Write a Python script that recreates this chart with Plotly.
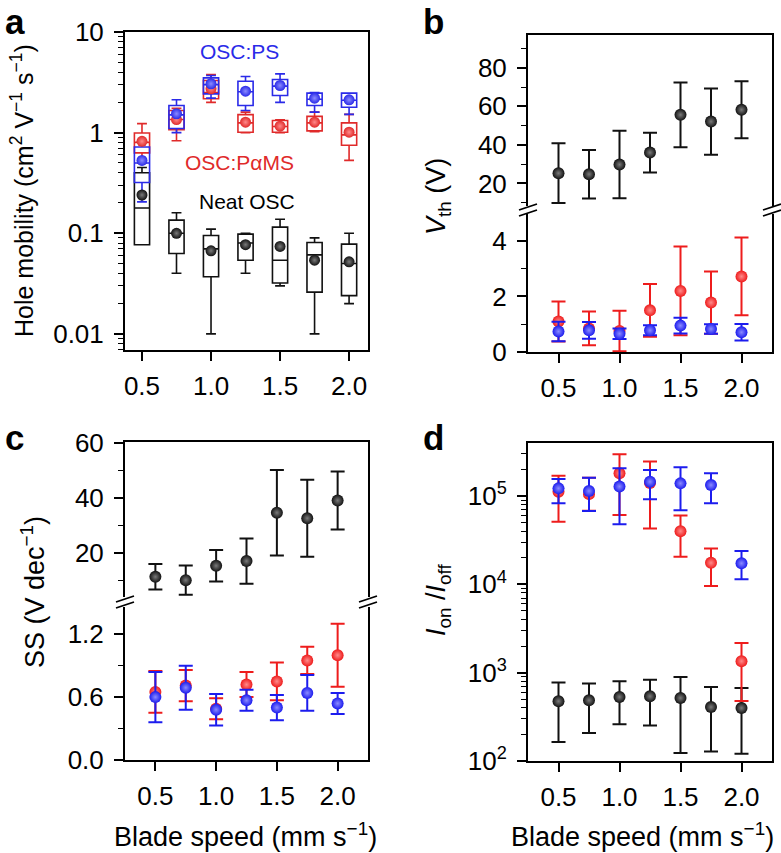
import plotly.graph_objects as go

# ---------------- data ----------------
speed = [0.5, 0.75, 1.0, 1.25, 1.5, 1.75, 2.0]

# panel a: hole mobility box statistics (cm2 V-1 s-1)
mob_neat_q1 = [0.077, 0.063, 0.037, 0.054, 0.032, 0.026, 0.024]
mob_neat_med = [0.178, 0.10, 0.07, 0.08, 0.054, 0.061, 0.05]
mob_neat_q3 = [0.40, 0.135, 0.095, 0.098, 0.115, 0.081, 0.078]
mob_neat_lo = [0.10, 0.04, 0.01, 0.04, 0.03, 0.01, 0.02]
mob_neat_hi = [0.45, 0.16, 0.11, 0.10, 0.138, 0.09, 0.10]
mob_neat_mean = [0.24, 0.10, 0.067, 0.077, 0.074, 0.054, 0.052]

mob_pams_q1 = [0.63, 1.07, 2.17, 1.01, 1.01, 1.04, 0.75]
mob_pams_med = [0.80, 1.35, 2.5, 1.25, 1.15, 1.25, 0.95]
mob_pams_q3 = [0.99, 1.66, 3.3, 1.51, 1.32, 1.45, 1.25]
mob_pams_lo = [0.50, 0.83, 2.0, 1.0, 1.0, 1.02, 0.53]
mob_pams_hi = [1.23, 1.75, 3.78, 1.6, 1.34, 1.6, 1.52]
mob_pams_mean = [0.82, 1.35, 2.73, 1.27, 1.16, 1.27, 1.01]

mob_ps_q1 = [0.32, 1.10, 2.43, 1.86, 2.34, 1.86, 1.79]
mob_ps_med = [0.50, 1.5, 3.0, 2.55, 2.9, 2.15, 2.1]
mob_ps_q3 = [0.72, 1.86, 3.5, 3.24, 3.37, 2.47, 2.47]
mob_ps_lo = [0.205, 1.0, 2.2, 1.66, 2.0, 1.6, 1.52]
mob_ps_hi = [0.80, 2.12, 3.7, 3.61, 3.84, 2.5, 2.45]
mob_ps_mean = [0.53, 1.54, 3.06, 2.58, 2.94, 2.2, 2.12]

# panel b: threshold voltage (V)
vth_neat = [25.3, 24.8, 29.8, 36.0, 55.6, 52.1, 58.2]
vth_neat_err = [15.5, 12.6, 17.5, 10.3, 16.8, 17.2, 14.8]
vth_pams = [1.10, 0.85, 0.76, 1.50, 2.20, 1.78, 2.72]
vth_pams_err = [0.72, 0.61, 0.73, 0.95, 1.6, 1.12, 1.4]
vth_ps = [0.74, 0.78, 0.66, 0.78, 0.95, 0.83, 0.71]
vth_ps_err = [0.35, 0.30, 0.19, 0.18, 0.28, 0.17, 0.30]

# panel c: subthreshold swing (V dec-1)
ss_neat = [11.5, 10.3, 15.5, 17.2, 34.7, 32.7, 39.1]
ss_neat_err = [4.6, 5.3, 5.7, 8.2, 15.5, 13.9, 10.5]
ss_pams = [0.65, 0.71, 0.49, 0.72, 0.75, 0.95, 1.0]
ss_pams_err = [0.20, 0.15, 0.10, 0.12, 0.18, 0.13, 0.30]
ss_ps = [0.60, 0.69, 0.48, 0.57, 0.50, 0.64, 0.54]
ss_ps_err = [0.24, 0.21, 0.15, 0.10, 0.12, 0.17, 0.10]

# panel d: on/off ratio (value, upper bound, lower bound)
onoff_neat = [475, 487, 531, 540, 517, 408, 398]
onoff_neat_hi = [773, 752, 798, 834, 893, 689, 671]
onoff_neat_lo = [164, 207, 260, 253, 123, 128, 121]
onoff_pams = [1.12e5, 1.05e5, 1.81e5, 1.4e5, 4.0e4, 1.75e4, 1.35e3]
onoff_pams_hi = [1.7e5, 1.61e5, 2.97e5, 2.45e5, 6.0e4, 2.55e4, 2.17e3]
onoff_pams_lo = [5.1e4, 6.8e4, 6.1e4, 4.3e4, 2.05e4, 9.6e3, 478]
onoff_ps = [1.22e5, 1.14e5, 1.28e5, 1.45e5, 1.39e5, 1.33e5, 1.73e4]
onoff_ps_hi = [1.56e5, 1.61e5, 2.06e5, 1.97e5, 2.11e5, 1.81e5, 2.38e4]
onoff_ps_lo = [8.3e4, 6.76e4, 4.8e4, 9.2e4, 6.9e4, 8.3e4, 1.14e4]

x_ticks = [0.5, 1.0, 1.5, 2.0]

# ---------------- style ----------------
W, H = 781, 853
FONT = "Liberation Sans, Arial, sans-serif"
BLACK = "#111111"
RED = "#ee1c1c"
BLUE = "#1c1cee"
RED_A = "#e02a2a"
BLUE_A = "#2a2ae8"
GRAD = {BLACK: "#7a7a7a", RED: "#ff8a8a", BLUE: "#8a8aff", RED_A: "#ff8a8a", BLUE_A: "#8a8aff"}


def px(x):
    return x / W


def py(y):
    return 1 - y / H


fig = go.Figure()


def box(xa, ya, q1, med, q3, lo, hi, color):
    fig.add_trace(go.Box(
        x=speed, q1=q1, median=med, q3=q3, lowerfence=lo, upperfence=hi,
        xaxis=xa, yaxis=ya, width=0.11, whiskerwidth=0.65,
        line=dict(color=color, width=1.6), fillcolor="rgba(0,0,0,0)",
        boxpoints=False, showlegend=False, hoverinfo="skip"))


def pts(xa, ya, y, color, plus=None, minus=None, size=12):
    err = None
    if plus is not None:
        err = dict(type="data", array=plus, arrayminus=minus if minus is not None else plus,
                   symmetric=minus is None, color=color, thickness=2, width=7)
    fig.add_trace(go.Scatter(
        x=speed, y=y, mode="markers", xaxis=xa, yaxis=ya, error_y=err,
        marker=dict(color=color, size=size, line=dict(width=0),
                    gradient=dict(type="radial", color=GRAD[color])),
        showlegend=False, hoverinfo="skip"))


# panel a
box("x", "y", mob_neat_q1, mob_neat_med, mob_neat_q3, mob_neat_lo, mob_neat_hi, BLACK)
box("x", "y", mob_pams_q1, mob_pams_med, mob_pams_q3, mob_pams_lo, mob_pams_hi, RED_A)
box("x", "y", mob_ps_q1, mob_ps_med, mob_ps_q3, mob_ps_lo, mob_ps_hi, BLUE_A)
pts("x", "y", mob_neat_mean, BLACK, size=11)
pts("x", "y", mob_pams_mean, RED_A, size=11)
pts("x", "y", mob_ps_mean, BLUE_A, size=11)

# panel b (upper: y3, lower: y2)
pts("x3", "y3", vth_neat, BLACK, vth_neat_err)
pts("x2", "y2", vth_pams, RED, vth_pams_err)
pts("x2", "y2", vth_ps, BLUE, vth_ps_err)

# panel c (upper: y5, lower: y4)
pts("x5", "y5", ss_neat, BLACK, ss_neat_err)
pts("x4", "y4", ss_pams, RED, ss_pams_err)
pts("x4", "y4", ss_ps, BLUE, ss_ps_err)


# panel d
def asym(v, hi, lo):
    return [h - a for a, h in zip(v, hi)], [a - l for a, l in zip(v, lo)]


p, m = asym(onoff_neat, onoff_neat_hi, onoff_neat_lo)
pts("x6", "y6", onoff_neat, BLACK, p, m)
p, m = asym(onoff_pams, onoff_pams_hi, onoff_pams_lo)
pts("x6", "y6", onoff_pams, RED, p, m)
p, m = asym(onoff_ps, onoff_ps_hi, onoff_ps_lo)
pts("x6", "y6", onoff_ps, BLUE, p, m)

tickfont = dict(family=FONT, size=26, color="black")
common = dict(showline=True, linecolor="black", linewidth=2, showgrid=False, zeroline=False,
              ticks="outside", ticklen=9, tickwidth=1.6, tickcolor="black", tickfont=tickfont)


def xaxis_main(domain, rng, anchor, mirror=False):
    return dict(common, domain=domain, range=rng, anchor=anchor, tickvals=x_ticks,
                tickformat=".1f", mirror=mirror, ticklabelstandoff=3)


def xaxis_top(domain, rng, anchor):
    return dict(domain=domain, range=rng, anchor=anchor, side="top", showline=True,
                linecolor="black", linewidth=2, showgrid=False, zeroline=False,
                showticklabels=False, ticks="")


minor_lin = dict(ticks="outside", ticklen=5, tickwidth=1.4, tickcolor="black", showgrid=False)

dom_a_x = [px(125), px(368)]
dom_r_x = [px(528), px(772)]

layout = dict(
    width=W, height=H, margin=dict(l=0, r=0, t=0, b=0, autoexpand=False),
    paper_bgcolor="white", plot_bgcolor="white", boxmode="overlay",
    font=dict(family=FONT, color="black"),
    # panel a
    xaxis=xaxis_main(dom_a_x, [0.377, 2.137], "y", mirror=True),
    yaxis=dict(common, domain=[py(350), py(32)], type="log", range=[-2.16, 1.0], anchor="x",
               mirror=True, tickvals=[0.01, 0.1, 1, 10], ticktext=["0.01", "0.1", "1", "10"],
               ticklabelstandoff=5,
               minor=dict(ticks="outside", ticklen=5, tickwidth=1.2, tickcolor="black",
                          dtick="D1", showgrid=False)),
    # panel b lower
    xaxis2=xaxis_main(dom_r_x, [0.25, 2.25], "y2"),
    yaxis2=dict(common, domain=[py(352), py(214)], range=[0, 4.97], anchor="x2", mirror=True,
                tickvals=[0, 2, 4], ticklabelstandoff=5, minor=dict(minor_lin, dtick=1)),
    # panel b upper
    xaxis3=xaxis_top(dom_r_x, [0.25, 2.25], "y3"),
    yaxis3=dict(common, domain=[py(206), py(35)], range=[8.3, 97], anchor="x3", mirror=True,
                tickvals=[20, 40, 60, 80], ticklabelstandoff=5,
                minor=dict(minor_lin, tick0=0, dtick=10)),
    # panel c lower
    xaxis4=xaxis_main(dom_a_x, [0.25, 2.25], "y4"),
    yaxis4=dict(common, domain=[py(760), py(607)], range=[0, 1.46], anchor="x4", mirror=True,
                tickvals=[0, 0.6, 1.2], tickformat=".1f", ticklabelstandoff=5,
                minor=dict(minor_lin, tick0=0, dtick=0.3)),
    # panel c upper
    xaxis5=xaxis_top(dom_a_x, [0.25, 2.25], "y5"),
    yaxis5=dict(common, domain=[py(597), py(442)], range=[4.2, 60.3], anchor="x5", mirror=True,
                tickvals=[20, 40, 60], ticklabelstandoff=5,
                minor=dict(minor_lin, tick0=0, dtick=10)),
    # panel d
    xaxis6=xaxis_main(dom_r_x, [0.25, 2.25], "y6", mirror=True),
    yaxis6=dict(common, domain=[py(761), py(443)], type="log", range=[2, 5.6], anchor="x6",
                mirror=True, tickvals=[1e2, 1e3, 1e4, 1e5],
                ticktext=["10<sup>2</sup>", "10<sup>3</sup>", "10<sup>4</sup>", "10<sup>5</sup>"],
                ticklabelstandoff=5,
                minor=dict(ticks="outside", ticklen=5, tickwidth=1.2, tickcolor="black",
                           dtick="D1", showgrid=False)),
)
fig.update_layout(**layout)

ann = []


def text(x, y, s, size=27, color="black", angle=0, bold=False, xanchor="center", yanchor="middle"):
    ann.append(dict(x=px(x), y=py(y), xref="paper", yref="paper", text=("<b>%s</b>" % s) if bold else s,
                    showarrow=False, textangle=angle, xanchor=xanchor, yanchor=yanchor,
                    font=dict(family=FONT, size=size, color=color)))


# panel letters
text(3, 0, "a", size=35, bold=True, xanchor="left", yanchor="top")
text(421, 0, "b", size=35, bold=True, xanchor="left", yanchor="top")
text(3, 416, "c", size=35, bold=True, xanchor="left", yanchor="top")
text(421, 416, "d", size=35, bold=True, xanchor="left", yanchor="top")

# series labels in panel a
text(240, 52, "OSC:PS", size=21, color=BLUE_A)
text(240, 162, "OSC:PαMS", size=21, color=RED_A)
text(247, 202, "Neat OSC", size=21, color="black")

# axis titles
text(22, 191, "Hole mobility (cm<sup>2</sup> V<sup>−1</sup> s<sup>−1</sup>)", size=25, angle=-90)
text(438, 197, "<i>V</i><sub>th</sub> (V)", angle=-90)
text(33, 592, "SS (V dec<sup>−1</sup>)", angle=-90)
text(438, 600, "<i>I</i><sub>on</sub> /<i>I</i><sub>off</sub>", angle=-90)
text(246, 835, "Blade speed (mm s<sup>−1</sup>)")
text(642, 835, "Blade speed (mm s<sup>−1</sup>)")
fig.update_layout(annotations=ann)

# axis break marks
shapes = []
for xb, yb in [(528, 210), (772, 210), (125, 602), (368, 602)]:
    for dy in (-3, 3):
        shapes.append(dict(type="line", xref="paper", yref="paper",
                           x0=px(xb - 9), y0=py(yb + dy + 3), x1=px(xb + 9), y1=py(yb + dy - 3),
                           line=dict(color="black", width=1.8)))
fig.update_layout(shapes=shapes)

fig.write_html("out.html", config={"displayModeBar": False},
               post_script="document.body.style.margin='0';document.body.style.overflow='hidden';")
